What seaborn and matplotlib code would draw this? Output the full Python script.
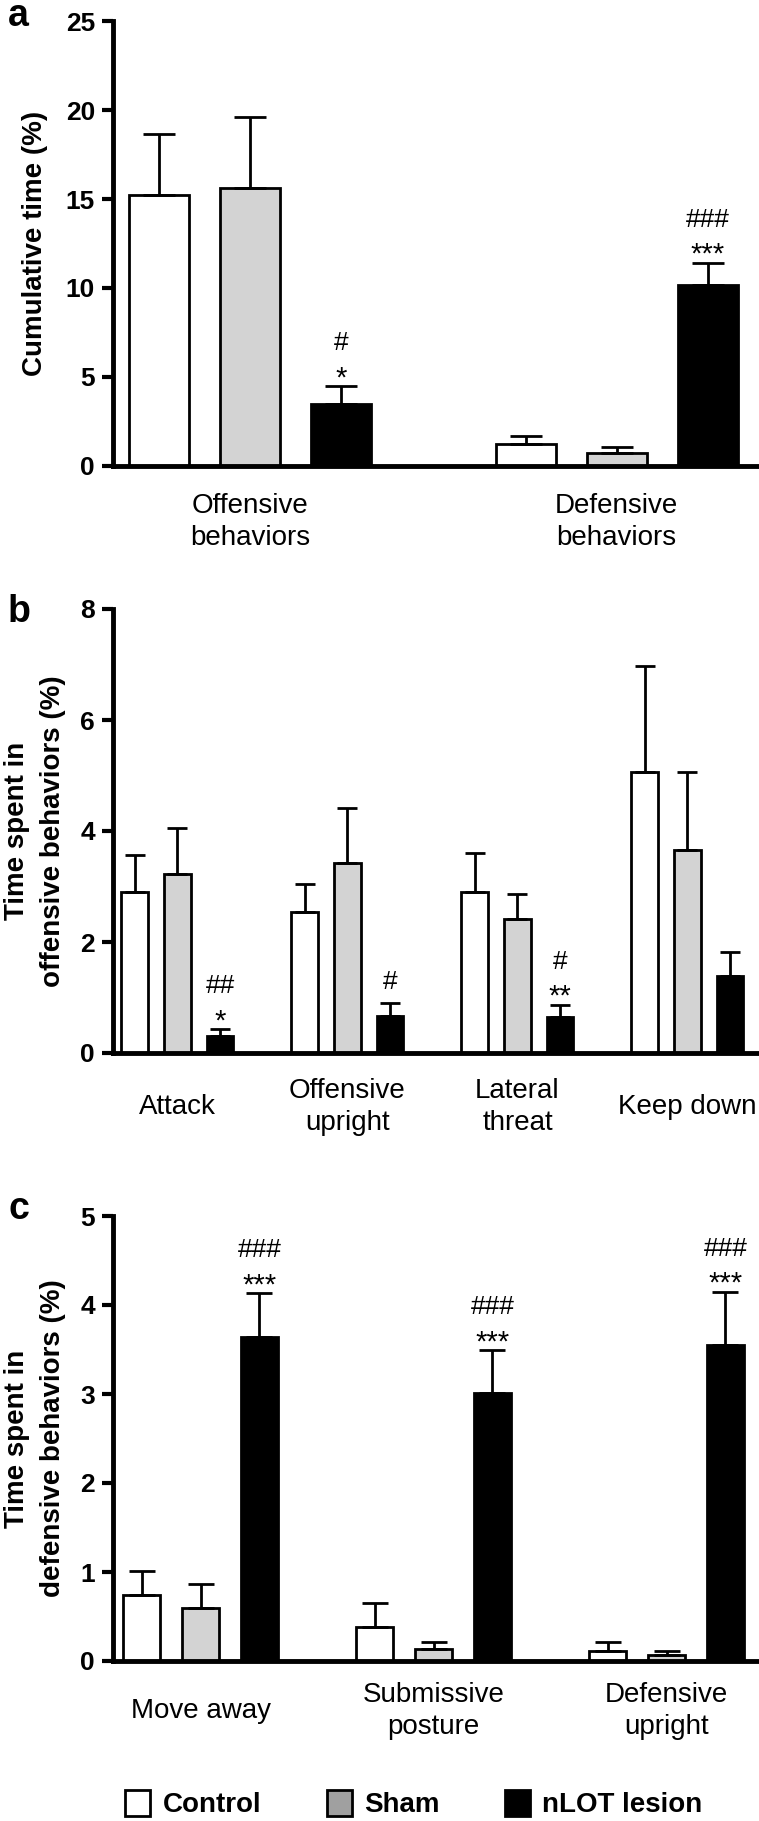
import numpy as np
import pandas as pd
import matplotlib
matplotlib.use("Agg")
import matplotlib.pyplot as plt
import seaborn as sns
from matplotlib.patches import Patch
from matplotlib.container import BarContainer

# ---------------- data ----------------
groups = ["Control", "Sham", "nLOT lesion"]
bar_colors = ["#ffffff", "#d3d3d3", "#000000"]
legend_colors = ["#ffffff", "#a0a0a0", "#000000"]

a_categories = ["Offensive\nbehaviors", "Defensive\nbehaviors"]
a_control = [15.24, 1.19]
a_sham = [15.60, 0.72]
a_lesion = [3.46, 10.16]
a_control_sem = [3.42, 0.46]
a_sham_sem = [4.03, 0.33]
a_lesion_sem = [1.01, 1.25]
a_stars = ["*", "***"]
a_hashes = ["#", "###"]
a_ticks = [0, 5, 10, 15, 20, 25]
a_ylabel = "Cumulative time (%)"

b_categories = ["Attack", "Offensive\nupright", "Lateral\nthreat", "Keep down"]
b_control = [2.90, 2.54, 2.90, 5.06]
b_sham = [3.22, 3.43, 2.41, 3.66]
b_lesion = [0.31, 0.66, 0.64, 1.38]
b_control_sem = [0.67, 0.51, 0.70, 1.92]
b_sham_sem = [0.83, 0.99, 0.46, 1.41]
b_lesion_sem = [0.12, 0.24, 0.23, 0.44]
b_stars = ["*", "", "**", ""]
b_hashes = ["##", "#", "#", ""]
b_ticks = [0, 2, 4, 6, 8]
b_ylabel = "Time spent in\noffensive behaviors (%)"

c_categories = ["Move away", "Submissive\nposture", "Defensive\nupright"]
c_control = [0.745, 0.38, 0.114]
c_sham = [0.593, 0.138, 0.066]
c_lesion = [3.64, 3.01, 3.55]
c_control_sem = [0.27, 0.27, 0.104]
c_sham_sem = [0.27, 0.08, 0.048]
c_lesion_sem = [0.49, 0.48, 0.60]
c_stars = ["***", "***", "***"]
c_hashes = ["###", "###", "###"]
c_ticks = [0, 1, 2, 3, 4, 5]
c_ylabel = "Time spent in\ndefensive behaviors (%)"

# ---------------- style ----------------
sns.set_style("ticks")
plt.rcParams["font.family"] = ["Liberation Sans", "DejaVu Sans"]
for k in ["text.color", "axes.labelcolor", "xtick.color", "ytick.color",
          "axes.edgecolor"]:
    plt.rcParams[k] = "black"

W, H = 759, 1821
fig = plt.figure(figsize=(W / 100, H / 100), dpi=100)


def make_df(cats, ctrl, sham, les, csem, ssem, lsem):
    rows = []
    for g, vals, sems in zip(groups, [ctrl, sham, les], [csem, ssem, lsem]):
        for c, v, s in zip(cats, vals, sems):
            rows.append({"category": c, "group": g, "value": v, "sem": s})
    return pd.DataFrame(rows)


def panel(rect, cats, ctrl, sham, les, csem, ssem, lsem, stars, hashes,
          ticks, ylabel, xlim, width, gap, capsize, xpad, letter, letter_y):
    ax = fig.add_axes(rect)
    df = make_df(cats, ctrl, sham, les, csem, ssem, lsem)
    sns.barplot(data=df, x="category", y="value", hue="group",
                hue_order=groups, order=cats,
                palette=dict(zip(groups, bar_colors)),
                width=width, gap=gap, errorbar=None, legend=False,
                edgecolor="black", linewidth=2, saturation=1, ax=ax)
    # error bars (upper only) on each bar, read from the drawn patches
    sems_by_group = [csem, ssem, lsem]
    bar_conts = [c for c in ax.containers if isinstance(c, BarContainer)]
    tops = {}
    for gi, cont in enumerate(bar_conts):
        patches = sorted(cont.patches, key=lambda p: p.get_x())
        xs = np.array([p.get_x() + p.get_width() / 2 for p in patches])
        hs = np.array([p.get_height() for p in patches])
        se = np.array(sems_by_group[gi])
        ax.errorbar(xs, hs, yerr=[np.zeros_like(se), se], fmt="none",
                    ecolor="black", elinewidth=2, capsize=capsize,
                    capthick=2, zorder=3)
        if gi == 2:
            for ci, (x, h, s) in enumerate(zip(xs, hs, se)):
                tops[ci] = (x, h + s)
    # significance marks over lesion bars
    for ci, (x, top) in tops.items():
        st, hs_ = stars[ci], hashes[ci]
        if st:
            ax.annotate(st, xy=(x, top), xytext=(0, 0),
                        textcoords="offset points", ha="center",
                        va="baseline", fontsize=21)
            if hs_:
                ax.annotate(hs_, xy=(x, top), xytext=(0, 26),
                            textcoords="offset points", ha="center",
                            va="baseline", fontsize=19)
        elif hs_:
            ax.annotate(hs_, xy=(x, top), xytext=(0, 10),
                        textcoords="offset points", ha="center",
                        va="baseline", fontsize=19)

    ax.set_xlim(*xlim)
    ax.set_ylim(ticks[0], ticks[-1])
    ax.set_yticks(ticks)
    ax.set_yticklabels([str(t) for t in ticks])
    sns.despine(ax=ax)
    for side in ["left", "bottom"]:
        ax.spines[side].set_linewidth(3.5)
        ax.spines[side].set_color("black")
    ax.tick_params(axis="y", length=8, width=3, labelsize=19, pad=5,
                   color="black", labelcolor="black")
    ax.tick_params(axis="x", length=0, labelsize=20, pad=xpad,
                   labelcolor="black")
    for lbl in ax.get_yticklabels():
        lbl.set_fontweight("bold")
    for lbl in ax.get_xticklabels():
        lbl.set_va("center")
        lbl.set_linespacing(1.3)
    ax.set_xlabel("")
    ax.set_ylabel(ylabel, fontsize=20, fontweight="bold", linespacing=1.5,
                  color="black")
    ax.yaxis.set_label_coords(-0.121, 0.5)
    ax.yaxis.label.set_va("center")
    fig.text(8 / W, 1 - letter_y / H, letter, fontsize=27,
             fontweight="bold", va="baseline", ha="left", color="black")
    return ax


left = 113 / W
width_ax = (757 - 113) / W

panel([left, (H - 465.5) / H, width_ax, 444 / H],
      a_categories, a_control, a_sham, a_lesion,
      a_control_sem, a_sham_sem, a_lesion_sem, a_stars, a_hashes,
      a_ticks, a_ylabel, (-0.374, 1.383), 0.745, 0.34, 11.5, 41, "a", 26)

panel([left, (H - 1053) / H, width_ax, 444 / H],
      b_categories, b_control, b_sham, b_lesion,
      b_control_sem, b_sham_sem, b_lesion_sem, b_stars, b_hashes,
      b_ticks, b_ylabel, (-0.379, 3.409), 0.753, 0.375, 7.2, 39, "b", 622)

panel([left, (H - 1661) / H, width_ax, 445 / H],
      c_categories, c_control, c_sham, c_lesion,
      c_control_sem, c_sham_sem, c_lesion_sem, c_stars, c_hashes,
      c_ticks, c_ylabel, (-0.376, 2.388), 0.756, 0.373, 9.7, 36, "c", 1219)

handles = [Patch(facecolor=c, edgecolor="black", linewidth=2)
           for c in legend_colors]
fig.legend(handles, groups, loc="center", ncol=3, frameon=False,
           bbox_to_anchor=(((121 + 707) / 2) / W, 17 / H),
           prop={"family": "Liberation Sans", "weight": "bold", "size": 20},
           handlelength=0.9, handleheight=1.05, handletextpad=0.45,
           columnspacing=2.35, borderpad=0, labelcolor="black")

fig.savefig("out.png", dpi=100)
